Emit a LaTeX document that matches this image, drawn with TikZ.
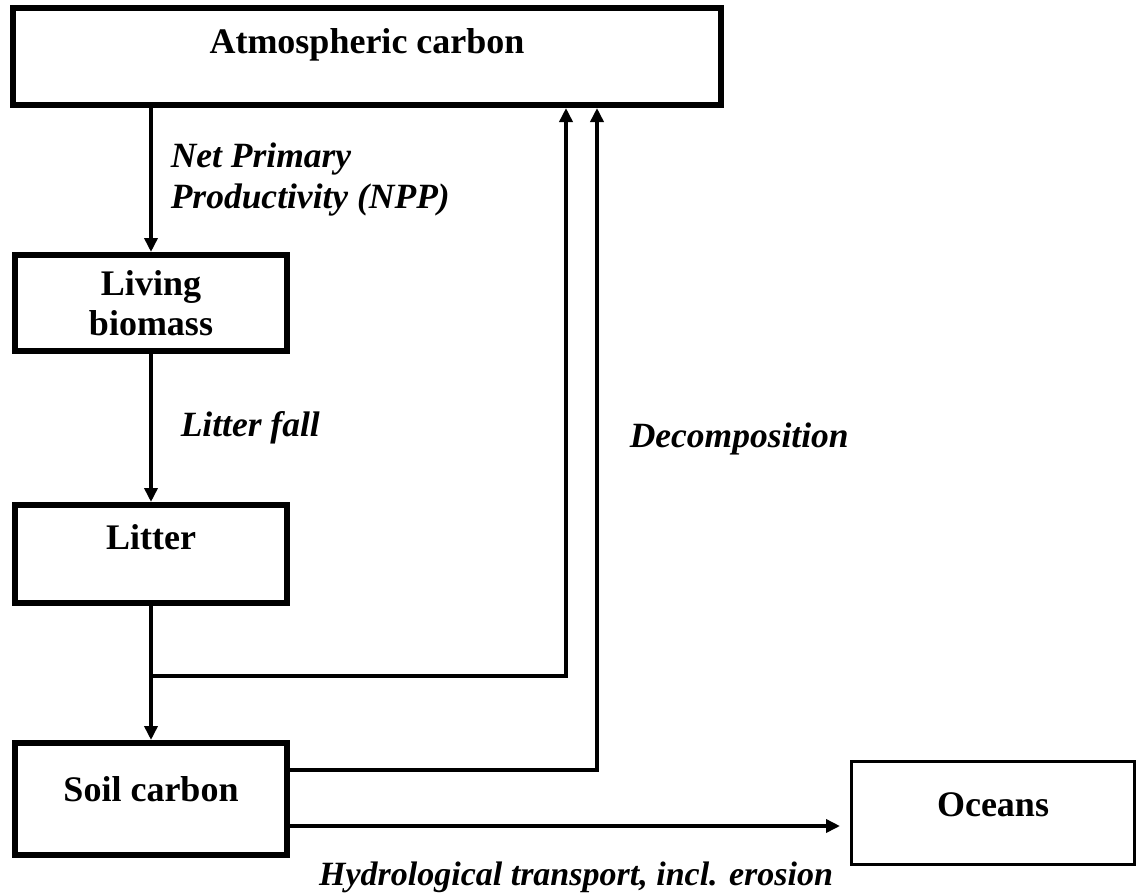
\documentclass[tikz,border=0pt]{standalone}
\usepackage{fontspec}
\setmainfont{Liberation Serif}
\usetikzlibrary{positioning,arrows.meta,calc}
\tikzset{
  fig/.style={x=1pt,y=-1pt},
  box/.style={draw,line width=6pt,align=center,inner sep=0pt,
              font=\fontsize{36}{40}\selectfont\bfseries},
  thinbox/.style={box,line width=3pt},
  ln/.style={-{Triangle[length=14pt,width=13pt]},line width=3.5pt},
  lbl/.style={font=\fontsize{35.5}{41}\selectfont\bfseries\itshape,inner sep=0pt,align=left},
}
\begin{document}
\begin{tikzpicture}[fig]
\useasboundingbox (0,0) rectangle (1142,894);

\node[box,minimum width=708pt,minimum height=97pt,text height=25pt,text depth=32pt]
  (atm) at (367,56.5) {Atmospheric carbon};
\node[box,minimum width=272pt,minimum height=96pt] (liv) at (151,303) {Living\\biomass};
\node[box,minimum width=272pt,minimum height=98pt,text height=25pt,text depth=35pt]
  (lit) at (151,554) {Litter};
\node[box,minimum width=272pt,minimum height=112pt,text height=25pt,text depth=21pt]
  (soil) at (151,799) {Soil carbon};
\node[thinbox,minimum width=283pt,minimum height=103pt,text height=25pt,text depth=19pt]
  (oce) at (993,813) {Oceans};

\coordinate (jn) at (151,676);
\coordinate (up1) at (566,676);
\coordinate (up2) at (597,770);
\coordinate (hyd) at (840,826);

\draw[ln] (atm.south -| liv.north) -- node[lbl,right=18pt]{Net Primary\\Productivity (NPP)} (liv.north);
\draw[ln] (liv.south) -- node[lbl,right=28pt]{Litter fall} (lit.north);
\draw[ln] (lit.south) -- (soil.north);

% decomposition back to the atmosphere
\draw[ln] (jn) -- (up1) -- (up1 |- atm.south);
\draw[ln] (soil.east |- up2) -- (up2) -- node[lbl,right=31pt]{Decomposition} (up2 |- atm.south);

\draw[ln] (soil.east |- hyd) -- node[lbl,font=\fontsize{34}{40}\selectfont\bfseries\itshape,
  pos=0.52,below=34pt]{Hydrological transport, incl. erosion} (hyd);

\end{tikzpicture}
\end{document}
